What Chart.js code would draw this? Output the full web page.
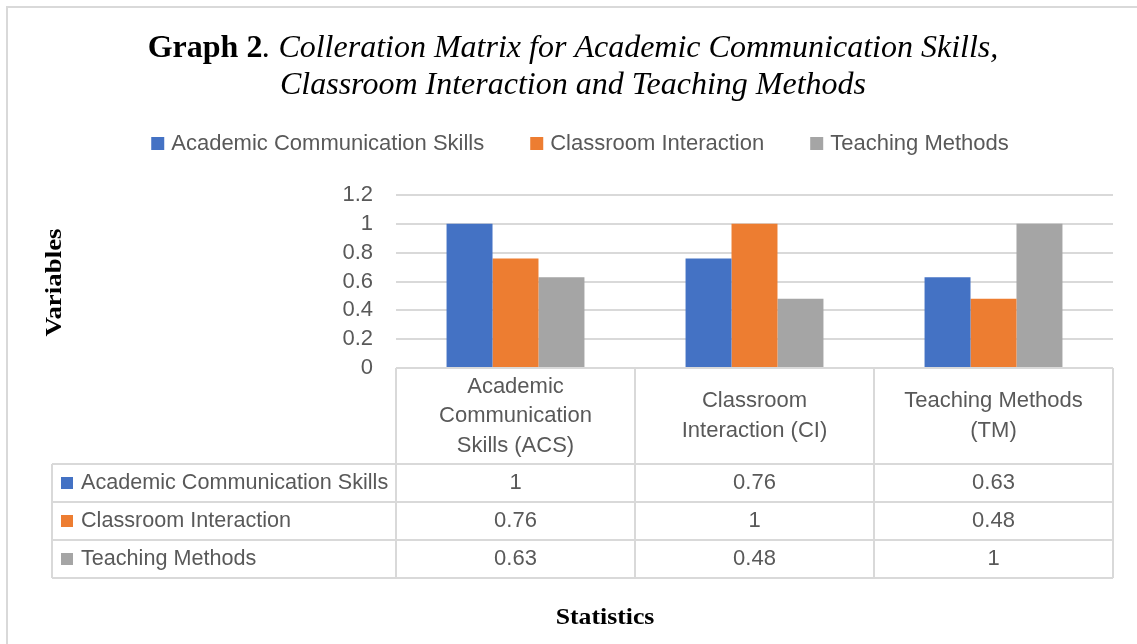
<!DOCTYPE html>
<html>
<head>
<meta charset="utf-8">
<script src="https://cdn.jsdelivr.net/npm/chart.js@4.4.1/dist/chart.umd.min.js"></script>
<style>
html,body{margin:0;padding:0;background:#fff;}
#wrap{position:relative;width:1137px;height:644px;}
</style>
</head>
<body>
<div id="wrap"><canvas id="c" width="1137" height="644"></canvas></div>
<script>
// ---- data ----
const categories = [
  ['Academic', 'Communication', 'Skills (ACS)'],
  ['Classroom', 'Interaction (CI)'],
  ['Teaching Methods', '(TM)']
];
const seriesNames = ['Academic Communication Skills', 'Classroom Interaction', 'Teaching Methods'];
const acsValues = [1, 0.76, 0.63];
const ciValues = [0.76, 1, 0.48];
const tmValues = [0.63, 0.48, 1];
const yTicks = [0, 0.2, 0.4, 0.6, 0.8, 1, 1.2];
const titleBold = 'Graph 2';
const titleLine1 = '. Colleration Matrix for Academic Communication Skills,';
const titleLine2 = 'Classroom Interaction and Teaching Methods';
const yAxisTitle = 'Variables';
const xAxisTitle = 'Statistics';

const colors = ['#4472C4', '#ED7D31', '#A5A5A5'];
const textColor = '#595959';
const lineColor = '#D9D9D9';
const sansFont = '"Liberation Sans", Arial, sans-serif';
const serifFont = '"Liberation Serif", "Times New Roman", serif';

const seriesValues = [acsValues, ciValues, tmValues];

function stretchedText(ctx, text, x, y, sx) {
  ctx.save();
  ctx.translate(x, y);
  ctx.scale(sx, 1);
  ctx.fillText(text, 0, 0);
  ctx.restore();
}

const decorPlugin = {
  id: 'decor',
  beforeDraw(chart) {
    const ctx = chart.ctx;
    ctx.save();
    ctx.fillStyle = '#fff';
    ctx.fillRect(0, 0, chart.width, chart.height);
    ctx.strokeStyle = lineColor;
    ctx.lineWidth = 2;
    ctx.beginPath();
    ctx.moveTo(7, chart.height);
    ctx.lineTo(7, 7);
    ctx.lineTo(chart.width, 7);
    ctx.stroke();
    ctx.restore();
  },
  afterDraw(chart) {
    const ctx = chart.ctx;
    const area = chart.chartArea;
    const xs = chart.scales.x;
    ctx.save();
    // ---- title ----
    ctx.fillStyle = '#000';
    ctx.textBaseline = 'alphabetic';
    const fBold = 'bold 32px ' + serifFont;
    const fIt = 'italic 32px ' + serifFont;
    ctx.font = fBold;
    const wB = ctx.measureText(titleBold).width;
    ctx.font = fIt;
    const w1 = ctx.measureText(titleLine1).width;
    const w2 = ctx.measureText(titleLine2).width;
    const cx = 573;
    const x0 = cx - (wB + w1) / 2;
    ctx.textAlign = 'left';
    ctx.font = fBold;
    ctx.fillText(titleBold, x0, 57);
    ctx.font = fIt;
    ctx.fillText(titleLine1, x0 + wB, 57);
    ctx.fillText(titleLine2, cx - w2 / 2, 94);

    // ---- legend ----
    ctx.font = '22px ' + sansFont;
    const gap = 46, box = 13, toff = 20;
    const widths = seriesNames.map(n => ctx.measureText(n).width);
    const total = widths.reduce((a, b) => a + b, 0) + seriesNames.length * toff + gap * (seriesNames.length - 1);
    let lx = 580 - total / 2;
    ctx.textBaseline = 'middle';
    seriesNames.forEach((n, i) => {
      ctx.fillStyle = colors[i];
      ctx.fillRect(lx, 137, box, box);
      ctx.fillStyle = textColor;
      ctx.fillText(n, lx + toff, 144);
      lx += toff + widths[i] + gap;
    });

    // ---- data table ----
    const n = categories.length;
    const colW = (area.right - area.left) / n;
    const headTop = area.bottom, headBot = area.bottom + 96;
    const rowH = 38;
    const tableLeft = 52;
    const tableBot = headBot + rowH * seriesNames.length;
    ctx.strokeStyle = lineColor;
    ctx.lineWidth = 2;
    ctx.beginPath();
    for (let i = 0; i <= n; i++) {
      const x = area.left + colW * i;
      ctx.moveTo(x, headTop);
      ctx.lineTo(x, tableBot);
    }
    ctx.moveTo(tableLeft, headBot);
    ctx.lineTo(tableLeft, tableBot);
    ctx.moveTo(area.left, headTop);
    ctx.lineTo(area.right, headTop);
    for (let r = 0; r <= seriesNames.length; r++) {
      const y = headBot + rowH * r;
      ctx.moveTo(tableLeft, y);
      ctx.lineTo(area.right, y);
    }
    ctx.stroke();

    ctx.font = '22px ' + sansFont;
    ctx.fillStyle = textColor;
    ctx.textAlign = 'center';
    ctx.textBaseline = 'middle';
    const lh = 29.5;
    categories.forEach((lab, i) => {
      const cxi = xs.getPixelForValue(i);
      const lines = Array.isArray(lab) ? lab : [lab];
      const midY = (headTop + headBot) / 2;
      const start = midY - (lines.length - 1) * lh / 2;
      lines.forEach((t, k) => ctx.fillText(t, cxi, start + k * lh));
    });
    seriesNames.forEach((name, r) => {
      const y = headBot + rowH * r + rowH / 2;
      ctx.fillStyle = colors[r];
      ctx.fillRect(61, y - 6, 12, 12);
      ctx.fillStyle = textColor;
      ctx.textAlign = 'left';
      ctx.font = '21.6px ' + sansFont;
      ctx.fillText(name, 81, y);
      ctx.font = '22px ' + sansFont;
      ctx.textAlign = 'center';
      seriesValues[r].forEach((v, i) => {
        ctx.fillText(String(v), xs.getPixelForValue(i), y);
      });
    });

    // ---- axis titles ----
    ctx.fillStyle = '#000';
    ctx.font = 'bold 23px ' + serifFont;
    ctx.textAlign = 'center';
    ctx.textBaseline = 'middle';
    stretchedText(ctx, xAxisTitle, 605, 618, 1.12);
    ctx.save();
    ctx.translate(55, (area.top + area.bottom) / 2 + 1);
    ctx.rotate(-Math.PI / 2);
    stretchedText(ctx, yAxisTitle, 0, 0, 1.17);
    ctx.restore();
    ctx.restore();
  }
};

new Chart(document.getElementById('c'), {
  type: 'bar',
  data: {
    labels: categories,
    datasets: seriesNames.map((name, i) => ({
      label: name,
      data: seriesValues[i],
      backgroundColor: colors[i],
      borderWidth: 0,
      barPercentage: 1,
      categoryPercentage: 0.577
    }))
  },
  options: {
    responsive: false,
    animation: false,
    layout: { padding: { left: 0, right: 24, top: 195, bottom: 0 } },
    plugins: {
      legend: { display: false },
      title: { display: false },
      tooltip: { enabled: false }
    },
    scales: {
      x: {
        ticks: { display: false },
        grid: { display: false, drawTicks: false },
        border: { display: false },
        afterFit(scale) { scale.height = 644 - 368; }
      },
      y: {
        min: 0,
        max: 1.2,
        afterBuildTicks(scale) { scale.ticks = yTicks.map(v => ({ value: v })); },
        ticks: {
          color: textColor,
          font: { family: sansFont, size: 22 },
          padding: 23,
          autoSkip: false,
          callback: v => String(Math.round(v * 10) / 10)
        },
        grid: { color: lineColor, lineWidth: 2, drawTicks: false },
        border: { display: false },
        afterFit(scale) { scale.width = 396; }
      }
    }
  },
  plugins: [decorPlugin]
});
</script>
</body>
</html>
